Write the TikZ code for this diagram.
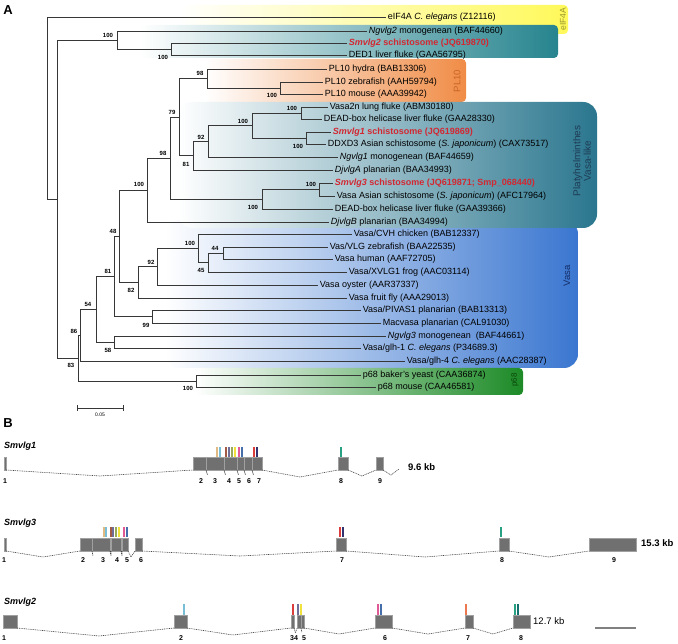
\documentclass[tikz,border=0pt]{standalone}
\usepackage{fontspec}
\setmainfont{Liberation Sans}
\definecolor{treegray}{RGB}{55,55,55}
\definecolor{eifyel}{RGB}{255,249,90}
\definecolor{ngteal}{RGB}{38,132,142}
\definecolor{ploran}{RGB}{240,140,70}
\definecolor{platteal}{RGB}{42,118,142}
\definecolor{vasblue}{RGB}{58,118,208}
\definecolor{pgreen}{RGB}{28,138,38}
\definecolor{smred}{RGB}{210,40,50}
\definecolor{eiflab}{RGB}{150,150,40}
\definecolor{pllab}{RGB}{200,100,40}
\definecolor{platlab}{RGB}{30,60,85}
\definecolor{vaslab}{RGB}{20,45,105}
\definecolor{p68lab}{RGB}{10,70,10}
\definecolor{exongray}{RGB}{112,112,112}
\definecolor{exonline}{RGB}{160,160,160}
\definecolor{introngray}{RGB}{70,70,70}
\definecolor{mtan}{RGB}{225,185,130}
\definecolor{mlblue}{RGB}{120,190,215}
\definecolor{mbrown}{RGB}{160,90,70}
\definecolor{mslate}{RGB}{110,110,150}
\definecolor{molive}{RGB}{150,170,90}
\definecolor{myellow}{RGB}{240,225,60}
\definecolor{mpink}{RGB}{225,90,150}
\definecolor{mblue}{RGB}{70,110,170}
\definecolor{mred}{RGB}{220,60,60}
\definecolor{mnavy}{RGB}{50,50,110}
\definecolor{mteal}{RGB}{40,160,130}
\definecolor{mdteal}{RGB}{20,110,110}
\definecolor{morange}{RGB}{235,120,80}

\begin{document}
\begin{tikzpicture}[x=1pt,y=1pt,yscale=-1,
  br/.style={draw=treegray, line width=0.65pt},
  leaf/.style={anchor=west, inner sep=0pt, inner xsep=1.6pt, font=\fontsize{9}{10}\selectfont},
  smleaf/.style={leaf, text=smred, font=\fontsize{9}{10}\selectfont\bfseries},
  boot/.style={inner sep=0pt, font=\fontsize{6}{7}\selectfont\bfseries},
  grplab/.style={rotate=90, inner sep=0pt, align=center},
  panel/.style={inner sep=0pt, font=\fontsize{13}{14}\selectfont\bfseries},
  genelab/.style={anchor=west, inner sep=0pt, font=\fontsize{9}{10}\selectfont\bfseries\itshape},
  exon/.style={fill=exongray, draw=exonline, line width=0.3pt, inner sep=0pt, outer sep=0pt, minimum height=13pt, anchor=south west},
  intron/.style={draw=introngray, line width=0.6pt, dash pattern={on 1pt off 0.8pt}},
  motif/.style={line width=1.1pt},
  exnum/.style={inner sep=0pt, font=\fontsize{7}{8}\selectfont\bfseries},
  kblab/.style={anchor=west, inner sep=0pt, font=\fontsize{9.5}{10}\selectfont\bfseries},
  ]
\useasboundingbox (0,0) rectangle (678,644);

% Shape: gradient boxes
\shade[left color=white, right color=eifyel, rounded corners=4pt] (180,5) rectangle (568,34);
\shade[left color=white, right color=ngteal, rounded corners=4pt] (140,25) rectangle (558,58);
\shade[left color=white, right color=ploran, rounded corners=4pt] (205,59) rectangle (466,102);
\shade[left color=white, right color=vasblue, rounded corners=14pt] (165,220) rectangle (578,368);
\shade[left color=white, right color=platteal, rounded corners=14pt] (178,102) rectangle (597,228);
\shade[left color=white, right color=pgreen, rounded corners=4pt] (195,368) rectangle (523,395);

\node[grplab, text=eiflab, font=\fontsize{8.5}{9}\selectfont] (geif) at (563,19) {eIF4A};
\node[grplab, text=pllab, font=\fontsize{9.5}{10}\selectfont] (gpl) at (457,81) {PL10};
\node[grplab, text=platlab, font=\fontsize{10}{10.5}\selectfont] (gplat) at (582,161) {Platyhelminthes\\Vasa-like};
\node[grplab, text=vaslab, font=\fontsize{9.5}{10}\selectfont] (gvas) at (567,276) {Vasa};
\node[grplab, text=p68lab, font=\fontsize{8}{9}\selectfont] (gp68) at (515,380) {p68};

\node[panel] (pa) at (8,10) {A};
\node[panel] (pb) at (8,423) {B};

% Leaves
\node[leaf] (eifce) at (386,17) {eIF4A \textit{C. elegans} (Z12116)};
\node[leaf] (ngv2) at (367,31) {\textit{Ngvlg2} monogenean (BAF44660)};
\node[smleaf] (smv2) at (347,43) {\textit{Smvlg2} schistosome (JQ619870)};
\node[leaf] (ded1) at (347,55) {DED1 liver fluke (GAA56795)};
\node[leaf] (plhy) at (327,69) {PL10 hydra (BAB13306)};
\node[leaf] (plzf) at (323,82) {PL10 zebrafish (AAH59794)};
\node[leaf] (plmo) at (323,94) {PL10 mouse (AAA39942)};
\node[leaf] (vas2n) at (328,107) {Vasa2n lung fluke (ABM30180)};
\node[leaf] (dbxa) at (322,119) {DEAD-box helicase liver fluke (GAA28330)};
\node[smleaf] (smv1) at (331,132) {\textit{Smvlg1} schistosome (JQ619869)};
\node[leaf] (ddxd3) at (326,144) {DDXD3 Asian schistosome (\textit{S. japonicum}) (CAX73517)};
\node[leaf] (ngv1) at (338,157) {\textit{Ngvlg1} monogenean (BAF44659)};
\node[leaf] (djva) at (333,170) {\textit{DjvlgA} planarian (BAA34993)};
\node[smleaf] (smv3) at (333,183) {\textit{Smvlg3} schistosome (JQ619871; Smp\_068440)};
\node[leaf] (vasj) at (335,196) {Vasa Asian schistosome (\textit{S. japonicum}) (AFC17964)};
\node[leaf] (dbxb) at (333,209) {DEAD-box helicase liver fluke (GAA39366)};
\node[leaf] (djvb) at (329,222) {\textit{DjvlgB} planarian (BAA34994)};
\node[leaf] (cvh) at (352,234) {Vasa/CVH chicken (BAB12337)};
\node[leaf] (vlgzf) at (328,247) {Vas/VLG zebrafish (BAA22535)};
\node[leaf] (vhum) at (333,259) {Vasa human (AAF72705)};
\node[leaf] (xvlg) at (347,272) {Vasa/XVLG1 frog (AAC03114)};
\node[leaf] (voys) at (318,285) {Vasa oyster (AAR37337)};
\node[leaf] (vfly) at (347,298) {Vasa fruit fly (AAA29013)};
\node[leaf] (pivas) at (361,310) {Vasa/PIVAS1 planarian (BAB13313)};
\node[leaf] (macv) at (381,323) {Macvasa planarian (CAL91030)};
\node[leaf] (ngv3) at (386,336) {\textit{Ngvlg3} monogenean\ \ (BAF44661)};
\node[leaf] (glh1) at (361,348) {Vasa/glh-1 \textit{C. elegans} (P34689.3)};
\node[leaf] (glh4) at (405,361) {Vasa/glh-4 \textit{C. elegans} (AAC28387)};
\node[leaf] (pyst) at (361,375) {p68 baker's yeast (CAA36874)};
\node[leaf] (pmou) at (376,387) {p68 mouse (CAA46581)};

% Inner nodes of the tree
\coordinate (root) at (47,108);
\coordinate (nA) at (57,199);
\coordinate (nB1) at (117,40);
\coordinate (nC) at (171,49);
\coordinate (nB2) at (78,358);
\coordinate (nE) at (80,335);
\coordinate (nF) at (96,309);
\coordinate (nG) at (114,276);
\coordinate (n58) at (114,342);
\coordinate (n48) at (119,236);
\coordinate (n147) at (147,190);
\coordinate (n98b) at (170,158);
\coordinate (n79) at (179,117);
\coordinate (nPL) at (207,78.5);
\coordinate (nPLb) at (280,88);
\coordinate (n81) at (193,155.5);
\coordinate (n92) at (208,141);
\coordinate (n252) at (252,125.5);
\coordinate (nVa) at (301,113);
\coordinate (nSm1) at (306,138);
\coordinate (n262) at (262,199);
\coordinate (nSm3) at (319,189.5);
\coordinate (n82) at (138,282);
\coordinate (n92v) at (157,266.5);
\coordinate (n100v) at (198,248);
\coordinate (n45) at (208,262.5);
\coordinate (n44) at (223,253);
\coordinate (n99) at (152,316.5);
\coordinate (np68) at (196,381);

% Branches
\foreach \p/\c in {root/eifce, root/nA, nA/nB1, nA/nB2, nB1/ngv2, nB1/nC, nC/smv2, nC/ded1,
  nB2/nE, nB2/np68, np68/pyst, np68/pmou, nE/nF, nE/glh4, nF/nG, nF/n58, n58/ngv3, n58/glh1,
  nG/n48, nG/n99, n99/pivas, n99/macv, n48/n147, n48/n82, n82/n92v, n82/vfly,
  n92v/n100v, n92v/voys, n100v/cvh, n100v/n45, n45/n44, n45/xvlg, n44/vlgzf, n44/vhum,
  n147/n98b, n147/djvb, n98b/n79, n98b/n262, n262/nSm3, n262/dbxb, nSm3/smv3, nSm3/vasj,
  n79/nPL, n79/n81, nPL/plhy, nPL/nPLb, nPLb/plzf, nPLb/plmo, n81/n92, n81/djva,
  n92/n252, n92/ngv1, n252/nVa, n252/nSm1, nVa/vas2n, nVa/dbxa, nSm1/smv1, nSm1/ddxd3}
  \draw[br] (\p) |- (\c);

% Bootstrap values
\foreach \x/\y/\t [count=\i] in {108/35/100, 163/57/100, 200/73/98, 272/95/100, 172/112/79,
  292/108/100, 243/121/100, 201/137/92, 298/146/100, 163/153/98, 186/164/81, 139/184/100,
  311/184/100, 253/207/100, 113/231/48, 190/243/100, 215/248/44, 151/262/92, 201/270/45,
  108/271/81, 131/290/82, 88/304/54, 146/325/99, 74/331/86, 108/350/58, 71/365/83, 188/388/100}
  \node[boot] (bs\i) at (\x,\y) {\t};

% Scale bar
\coordinate (sb0) at (77,408);
\coordinate (sb1) at (123,408);
\draw[br] (sb0) -- (sb1);
\draw[br] ([yshift=-3pt]sb0) -- ([yshift=3pt]sb0);
\draw[br] ([yshift=-3pt]sb1) -- ([yshift=3pt]sb1);
\node[inner sep=0pt, font=\fontsize{5}{6}\selectfont] (sblab) at (100,415) {0.05};

% Smvlg1
\node[genelab] (galab) at (4,446) {Smvlg1};
\foreach \x/\c in {217/mtan, 220/mlblue, 226/mbrown, 229/mslate, 232/molive, 235/myellow,
  239/mpink, 242/mblue, 254/mred, 257/mnavy, 341/mteal}
  \draw[motif, \c] (\x,447) -- (\x,457);
\foreach \n/\a/\w in {1/4/2, 2/193/13, 3/206/18, 4/224/13, 5/237/7, 6/244/8, 7/252/10, 8/338/10, 9/376/7}
  \node[exon, minimum width=\w pt] (ga\n) at (\a,470) {};
\coordinate (gaend) at (399,469);
\draw[intron] (ga1.south east) -- (100,476) -- (ga2.south west);
\foreach \m/\n in {2/3, 3/4, 4/5, 5/6, 6/7}
  \draw[intron] (ga\m.south east) -- ++(1.5,5) -- (ga\n.south west);
\draw[intron] (ga7.south east) -- (300,477) -- (ga8.south west);
\draw[intron] (ga8.south east) -- (362,476) -- (ga9.south west);
\draw[intron] (ga9.south east) -- (391,475) -- (gaend);
\foreach \x/\t [count=\i] in {5/1, 201/2, 215/3, 229/4, 239/5, 249/6, 259/7, 341/8, 380/9}
  \node[exnum] (gan\i) at (\x,481) {\t};
\node[kblab] (gakb) at (408,467) {9.6 kb};

% Smvlg3
\node[genelab] (gblab) at (4,523) {Smvlg3};
\foreach \x/\c in {104/mtan, 106/mlblue, 111/mbrown, 113/mslate, 116/molive, 119/myellow,
  124/mpink, 127/mblue, 340/mred, 343/mnavy, 501/mteal}
  \draw[motif, \c] (\x,527) -- (\x,537);
\foreach \n/\a/\w in {1/4/2, 2/80/12, 3/92/18, 4/111/10, 5/122/6, 6/135/7, 7/336/10, 8/499/10, 9/589/47}
  \node[exon, minimum width=\w pt] (gb\n) at (\a,551) {};
\draw[intron] (gb1.south east) -- (43,557) -- (gb2.south west);
\foreach \m/\n in {2/3, 3/4, 4/5}
  \draw[intron] (gb\m.south east) -- ++(1,5) -- (gb\n.south west);
\draw[intron] (gb5.south east) -- (131,557) -- (gb6.south west);
\draw[intron] (gb6.south east) -- (240,556) -- (gb7.south west);
\draw[intron] (gb7.south east) -- (425,557) -- (gb8.south west);
\draw[intron] (gb8.south east) -- (549,557) -- (gb9.south west);
\foreach \x/\t [count=\i] in {4/1, 83/2, 103/3, 117/4, 127/5, 141/6, 342/7, 502/8, 614/9}
  \node[exnum] (gbn\i) at (\x,560) {\t};
\node[kblab] (gbkb) at (641,543) {15.3 kb};

% Smvlg2
\node[genelab] (gclab) at (4,602) {Smvlg2};
\foreach \x/\c in {184/mlblue, 293/mred, 298/mslate, 301/myellow, 378/mpink, 381/mblue,
  466/morange, 515/mteal, 518/mdteal}
  \draw[motif, \c] (\x,604) -- (\x,615);
\foreach \n/\a/\w in {1/3/14, 2/174/13, 3/291/3, 4/297/4, 5/301/3, 6/375/17, 7/465/8, 8/513/17}
  \node[exon, minimum width=\w pt] (gc\n) at (\a,628) {};
\draw[intron] (gc1.south east) -- (99,636) -- (gc2.south west);
\draw[intron] (gc2.south east) -- (233,635) -- (gc3.south west);
\draw[intron] (gc3.south east) -- (295.5,633) -- (gc4.south west);
\draw[intron] (gc4.south east) -- ++(0.8,4) -- (gc5.south west);
\draw[intron] (gc5.south east) -- (339,634) -- (gc6.south west);
\draw[intron] (gc6.south east) -- (428,634) -- (gc7.south west);
\draw[intron] (gc7.south east) -- (493,634) -- (gc8.south west);
\foreach \x/\t [count=\i] in {4/1, 181/2, 294/34, 304/5, 385/6, 468/7, 521/8}
  \node[exnum] (gcn\i) at (\x,638) {\t};
\node[kblab, font=\fontsize{9.5}{10}\selectfont] (gckb) at (533,621) {12.7 kb};
\coordinate (kbs0) at (595,628);
\coordinate (kbs1) at (636,628);
\draw[gray, line width=1.2pt] (kbs0) -- (kbs1);

\end{tikzpicture}
\end{document}
